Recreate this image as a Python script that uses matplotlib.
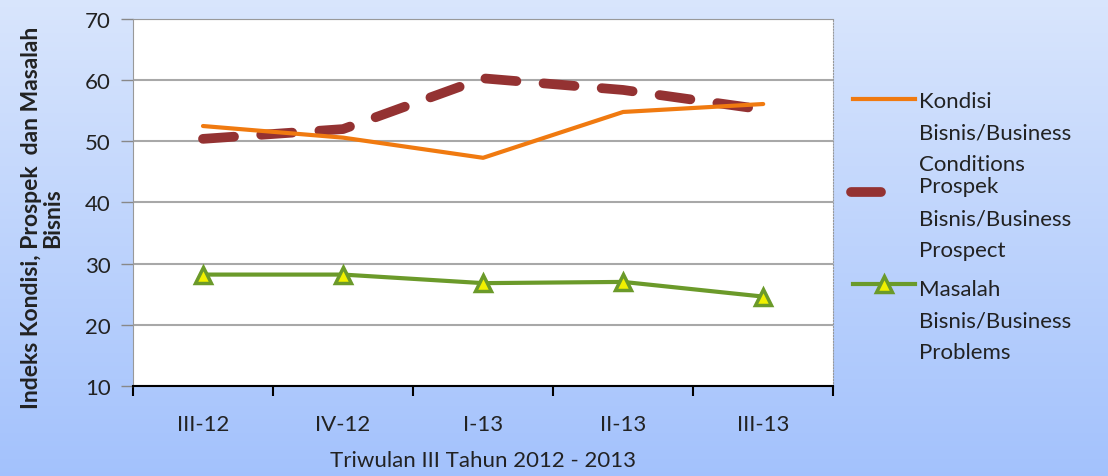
import matplotlib
matplotlib.use("Agg")
import matplotlib.pyplot as plt
from matplotlib.lines import Line2D
import numpy as np

plt.rcParams["font.family"] = ["Lato", "DejaVu Sans"]

quarters = ["III-12", "IV-12", "I-13", "II-13", "III-13"]
kondisi = [52.5, 50.6, 47.3, 54.8, 56.1]
prospek = [50.4, 52.0, 60.3, 58.4, 55.2]
masalah = [28.2, 28.2, 26.8, 27.0, 24.6]
legend_labels = [
    "Kondisi\nBisnis/Business\nConditions",
    "Prospek\nBisnis/Business\nProspect",
    "Masalah\nBisnis/Business\nProblems",
]

fig = plt.figure(figsize=(11.08, 4.77), dpi=100)

# gradient background
bg = fig.add_axes([0, 0, 1, 1], zorder=-10)
grad = np.linspace(0, 1, 256).reshape(-1, 1)
top = np.array([0.85, 0.90, 0.99])
bot = np.array([0.64, 0.76, 0.99])
img = top + (bot - top) * grad[:, :, None]
bg.imshow(img, aspect="auto", extent=[0, 1, 0, 1])
bg.axis("off")

ax = fig.add_axes([0.12, 0.189, 0.632, 0.769])
ax.set_facecolor("white")
x = np.arange(len(quarters))

ax.plot(x, kondisi, color="#f07a10", lw=3, solid_capstyle="round", zorder=3)
ax.plot(x, prospek, color="#943232", lw=7, dashes=(3.2, 2.8),
        dash_capstyle="round", zorder=2)
ax.plot(x, masalah, color="#6b9a2a", lw=3, marker="^", ms=11,
        markerfacecolor="#f0f000", markeredgecolor="#6b9a2a",
        markeredgewidth=2.5, zorder=4)

ax.set_xlim(-0.5, len(quarters) - 0.5)
ax.set_ylim(10, 70)
ax.set_yticks(range(10, 71, 10))
ax.set_xticks(x)
ax.set_xticklabels(quarters)
ax.set_xticks(np.arange(-0.5, len(quarters), 1), minor=True)
ax.tick_params(axis="x", which="major", length=0, pad=20, labelsize=16,
               colors="#222222")
ax.tick_params(axis="x", which="minor", length=7, width=1.5, direction="out",
               color="black")
ax.tick_params(axis="y", length=9, width=1, direction="out", color="#888888",
               labelsize=16, labelcolor="#222222", pad=7)
ax.grid(axis="y", color="#a8a8a8", lw=1.5)
for side in ["left", "top", "right"]:
    ax.spines[side].set_color("#999999")
ax.spines["right"].set_linestyle(":")
ax.spines["bottom"].set_color("black")
ax.spines["bottom"].set_linewidth(1.5)

ax.set_xlabel("Triwulan III Tahun 2012 - 2013", fontsize=16, color="#222222",
              labelpad=12)
ax.set_ylabel("Indeks Kondisi, Prospek  dan Masalah\nBisnis", fontsize=16.5,
              fontweight="bold", color="#222222", linespacing=1.0)
ax.yaxis.set_label_coords(-0.100, 0.46)

# legend drawn manually to mimic wrapped labels
handles = [
    dict(color="#f07a10", lw=3),
    dict(color="#943232", lw=7, solid_capstyle="round"),
    dict(color="#6b9a2a", lw=3, marker="^", ms=11, markerfacecolor="#f0f000",
         markeredgecolor="#6b9a2a", markeredgewidth=2.5, markevery=[1]),
]
handle_y = [0.790, 0.595, 0.403]
text_y = [0.808, 0.628, 0.414]
x_lines = [[0.770, 0.826], [0.768, 0.795], [0.770, 0.826]]
for lab, h, y0, ty, xl in zip(legend_labels, handles, handle_y, text_y, x_lines):
    xs = [xl[0], (xl[0] + xl[1]) / 2, xl[1]]
    fig.add_artist(Line2D(xs, [y0] * 3, transform=fig.transFigure, **h))
    fig.text(0.829, ty, lab, fontsize=16, color="#222222",
             va="top", ha="left", linespacing=1.74)

fig.savefig("out.png", dpi=100)
